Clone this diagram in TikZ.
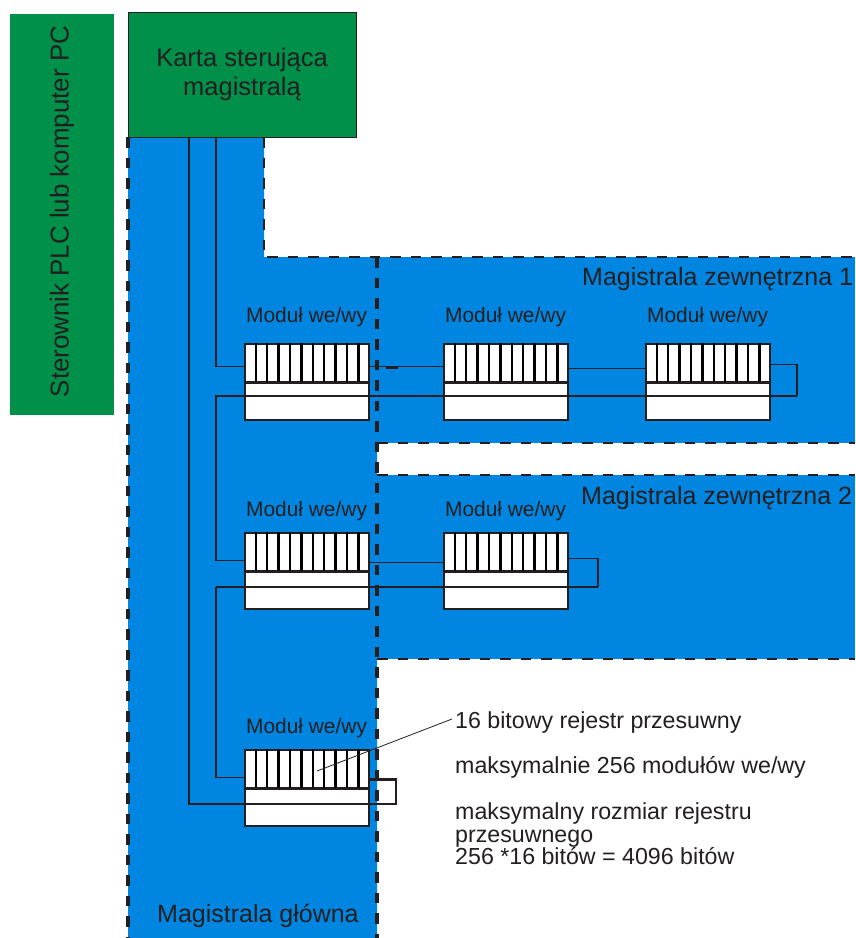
\documentclass[tikz,border=0pt]{standalone}
\usepackage{fontspec}
\setmainfont{Liberation Sans}
\usepackage{xcolor}
\usepackage{tikz}
\usetikzlibrary{positioning, calc}
\definecolor{darkgray}{HTML}{231F20}
\definecolor{busblue}{HTML}{0086E0}
\definecolor{cardgreen}{HTML}{00904A}

% one module: name, left x, top y, baseline y of its label
\newcommand{\modul}[4]{
  \node[combbox, anchor=north west] (#1c) at (#2,#3) {};
  \node[regbox, below=0pt of #1c] (#1r) {};
  \foreach \i in {1,...,10}
    \draw[tooth] ($(#1c.north west)+(0.3+\i*11.4,0)$) -- ($(#1c.south west)+(0.3+\i*11.4,0)$);
  \node[modlabel] (#1l) at (#2+2,#4) {Moduł we/wy};
}

\begin{document}
\begin{tikzpicture}[
  x=1pt, y=-1pt,
  area/.style={fill=busblue, draw=none},
  edge/.style={draw=darkgray, line width=3.6pt, dash pattern=on 10.5pt off 10pt},
  hedge/.style={draw=darkgray, line width=2.5pt, dash pattern=on 10.5pt off 10pt},
  combbox/.style={rectangle, minimum width=124pt, minimum height=37.5pt, inner sep=0pt,
                  fill=white, draw=darkgray, line width=1.8pt},
  regbox/.style={rectangle, minimum width=124pt, minimum height=36.5pt, inner sep=0pt,
                 fill=white, draw=darkgray, line width=1.8pt},
  tooth/.style={draw=black, line width=2.4pt},
  wire/.style={draw=darkgray, line width=1.5pt},
  heavy/.style={draw=darkgray, line width=2.8pt},
  modlabel/.style={anchor=base west, inner sep=0pt, text=darkgray,
                   font=\fontsize{20.9}{25}\selectfont},
  title/.style={anchor=base west, inner sep=0pt, text=darkgray,
                font=\fontsize{25}{29}\selectfont},
  note/.style={anchor=base west, inner sep=0pt, text=darkgray,
               font=\fontsize{23.2}{27}\selectfont},
]
  \useasboundingbox (0,0) rectangle (855,938);

  % bus areas
  \fill[area] (128,137) -- (264,137) -- (264,257) -- (377,257) -- (377,938) -- (128,938) -- cycle;
  \fill[area] (377,257) rectangle (855,443);
  \fill[area] (377,475) rectangle (855,659);
  \draw[edge] (128,137) -- (128,938);
  \draw[hedge] (264,137) -- (264,257) -- (855,257);
  \draw[edge] (377,257) -- (377,938);
  \draw[hedge] (377,443) -- (855,443);
  \draw[hedge] (377,475) -- (855,475);
  \draw[hedge] (377,659) -- (855,659);

  \node[rectangle, fill=cardgreen, minimum width=104pt, minimum height=401pt, inner sep=0pt] (plc) at (62,214.5) {};
  \node[rotate=90, inner sep=0pt, text=darkgray, font=\fontsize{25.9}{29}\selectfont] (plct) at (62,211.5) {Sterownik PLC lub komputer PC};
  \node[rectangle, fill=cardgreen, draw=darkgray, line width=1pt, minimum width=228pt,
        minimum height=125pt, inner sep=0pt, align=center, text=darkgray,
        font=\fontsize{25.5}{29.5}\selectfont] (card) at (242,74.5) {Karta sterująca\\magistralą};

  \modul{ma}{244}{343}{322}
  \modul{mb}{443}{343}{322}
  \modul{mc}{645}{343}{322}
  \modul{md}{244}{532}{516}
  \modul{me}{443}{532}{516}
  \modul{mf}{244}{749}{733}

  \coordinate (ret1) at (797,396);
  \coordinate (ret2) at (598,587);
  \coordinate (ret3) at (396,804);
  \coordinate (drop1) at (216,396);
  \coordinate (drop2) at (216,587);
  \coordinate (pin) at (317,771);

  \draw[wire] ([xshift=-26pt]card.south) |- ([yshift=-4pt]mac.west);
  \draw[wire] ([yshift=-4pt]mac.east) -- ([yshift=-4pt]mbc.west);
  \draw[wire] ([yshift=-6pt]mbc.east) -- ([yshift=-6pt]mcc.west);
  \draw[heavy] (386,368) -- (398,368);
  \draw[wire] ([yshift=-2pt]mcc.east) -| (ret1);
  \draw[heavy] ([yshift=-2pt]mcc.east -| ret1) -- (ret1);
  \draw[wire] (ret1) -- (drop1) |- ([yshift=-9pt]mdc.west);
  \draw[wire] ([yshift=-11pt]mdc.east) -- ([yshift=-11pt]mec.west);
  \draw[wire] ([yshift=-7pt]mec.east) -| (ret2);
  \draw[heavy] (ret2) -- (drop2);
  \draw[heavy] ([yshift=-7pt]mec.east -| ret2) -- (ret2);
  \draw[wire] (drop2) |- ([yshift=-9pt]mfc.west);
  \draw[wire] ([xshift=-53pt]card.south) |- (ret3);
  \draw[heavy] (189,804) -- (ret3) |- ([yshift=-11pt]mfc.east);

  \node[title] (ext1) at (582,285) {Magistrala zewnętrzna 1};
  \node[title] (ext2) at (581,504) {Magistrala zewnętrzna 2};
  \node[title] (main) at (157,922) {Magistrala główna};

  \node[note] (n1) at (455,728) {16 bitowy rejestr przesuwny};
  \node[note] (n2) at (455,773) {maksymalnie 256 modułów we/wy};
  \node[note] (n3) at (455,819) {maksymalny rozmiar rejestru};
  \node[note] (n4) at (455,842) {przesuwnego};
  \node[note] (n5) at (455,864) {256 *16 bitów = 4096 bitów};

  \draw[draw=darkgray, line width=0.8pt] ([xshift=-3pt,yshift=3pt]n1.west) -- (pin);
\end{tikzpicture}
\end{document}
